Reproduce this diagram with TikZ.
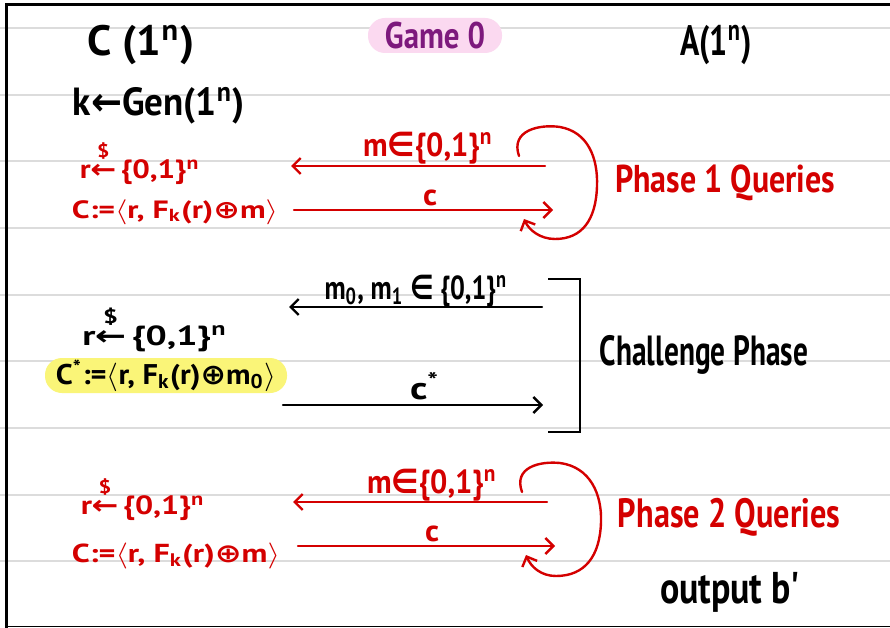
\documentclass[tikz,border=0pt]{standalone}
\usepackage{fontspec}
\usepackage{graphicx}
\setmainfont{PT Sans}
\newfontfamily\sym{DejaVu Sans}
\usetikzlibrary{arrows.meta}
\definecolor{inkred}{RGB}{212,0,0}
\definecolor{inkpurple}{RGB}{125,25,125}
\definecolor{hlpink}{RGB}{251,217,240}
\definecolor{hlyellow}{RGB}{250,245,120}
\definecolor{rulegray}{RGB}{220,220,220}
\newcommand\fitto[3]{\resizebox*{#1pt}{#2pt}{\bfseries #3}}
\newcommand\sampled{\mbox{\rlap{\raisebox{0.8em}{\makebox[0.8em][c]{\scriptsize\bfseries\$}}}\makebox[0.8em][c]{\sym ←}}}
\begin{document}
\begin{tikzpicture}[x=1pt,y=-1pt,
  lbl/.style={inner sep=0pt, anchor=center},
  ink/.style={line width=2.4pt, line cap=round, line join=round},
  tip/.style={-{Straight Barb[length=8pt,width=16pt]}},
  hl/.style={lbl, rounded corners=17pt, minimum height=35pt}
]
\useasboundingbox (0,0) rectangle (890,628);
\fill[white] (0,0) rectangle (890,628);
% ruled lines
\foreach \yy in {28,95,161,228,295,361,428,495,561}
  \draw[rulegray, line width=2pt] (0,\yy) -- (890,\yy);
% page frame
\draw[line width=3pt] (6,628) -- (6,5) -- (890,5);
\draw[line width=1.5pt] (6,626.5) -- (890,626.5);

% header
\node[lbl] (C) at (141,45) {\fitto{107}{40}{C (1\textsuperscript{n})}};
\node[hl, fill=hlpink, minimum width=134pt, text=inkpurple] (game) at (435,35.5) {\fitto{100}{27}{Game 0}};
\node[lbl] (A) at (716,45) {\fitto{72}{40}{A(1\textsuperscript{n})}};
\node[lbl] (gen) at (159,106) {\fitto{172}{37}{k{\sym ←}Gen(1\textsuperscript{n})}};

% phase 1
\node[lbl,text=inkred] (r1) at (140,164) {\fitto{120}{42}{r\sampled\,\{0,1\}\textsuperscript{n}}};
\node[lbl,text=inkred] (c1) at (175,212) {\fitto{206}{25}{C:=$\langle$r, F\textsubscript{k}(r){\sym ⊕}m$\rangle$}};
\node[lbl,text=inkred] (m1) at (428,148) {\fitto{130}{32}{m{\sym ∈}\{0,1\}\textsuperscript{n}}};
\node[lbl,text=inkred] (cl1) at (430,198) {\fitto{14}{16}{c}};
\node[lbl,text=inkred] (ph1) at (725,183) {\fitto{220}{36}{Phase 1 Queries}};
\coordinate (a1s) at (545,166); \coordinate (a1e) at (291,166);
\coordinate (b1s) at (294,210); \coordinate (b1e) at (553,210);
\coordinate (l1s) at (519,156); \coordinate (l1e) at (524,219);
\draw[ink,inkred,tip] (a1s) -- (a1e);
\draw[ink,inkred,tip] (b1s) -- (b1e);
\draw[ink,inkred,tip] (l1s) .. controls (510,130) and (540,124) .. (560,127)
  .. controls (588,132) and (598,158) .. (597,186)
  .. controls (596,220) and (582,239) .. (555,239)
  .. controls (540,239) and (529,230) .. (l1e);

% challenge phase
\node[lbl] (m01) at (416,291) {\fitto{183}{32}{m\textsubscript{0}, m\textsubscript{1} {\sym ∈} \{0,1\}\textsuperscript{n}}};
\node[lbl] (r2) at (155,330) {\fitto{145}{44}{r\sampled\,\{0,1\}\textsuperscript{n}}};
\node[hl, fill=hlyellow, minimum width=242pt] (cstar) at (166,375.5) {\fitto{220}{32}{C\textsuperscript{*}:=$\langle$r, F\textsubscript{k}(r){\sym ⊕}m\textsubscript{0}$\rangle$}};
\node[lbl] (csl) at (425,386) {\fitto{30}{28}{c\textsuperscript{*}}};
\node[lbl] (chal) at (704,355) {\fitto{208}{39}{Challenge Phase}};
\coordinate (a2s) at (542,307); \coordinate (a2e) at (289,307);
\coordinate (b2s) at (283,405); \coordinate (b2e) at (543,405);
\coordinate (k1) at (548,279); \coordinate (k2) at (580,279);
\coordinate (k3) at (580,432); \coordinate (k4) at (548,432);
\draw[ink,tip] (a2s) -- (a2e);
\draw[ink,tip] (b2s) -- (b2e);
\draw[line width=2.4pt, line cap=butt, line join=miter] (k1) -- (k2) -- (k3) -- (k4);

% phase 2
\node[lbl,text=inkred] (r3) at (143,500) {\fitto{124}{42}{r\sampled\,\{0,1\}\textsuperscript{n}}};
\node[lbl,text=inkred] (c3) at (176,556) {\fitto{208}{26}{C:=$\langle$r, F\textsubscript{k}(r){\sym ⊕}m$\rangle$}};
\node[lbl,text=inkred] (m3) at (432,485) {\fitto{130}{32}{m{\sym ∈}\{0,1\}\textsuperscript{n}}};
\node[lbl,text=inkred] (cl3) at (432,534) {\fitto{14}{16}{c}};
\node[lbl,text=inkred] (ph2) at (729,517) {\fitto{222}{38}{Phase 2 Queries}};
\node[lbl] (out) at (730,592) {\fitto{140}{40}{output b{\textquotesingle}}};
\coordinate (a3s) at (547,502); \coordinate (a3e) at (293,502);
\coordinate (b3s) at (298,546); \coordinate (b3e) at (555,546);
\coordinate (l3s) at (522,492); \coordinate (l3e) at (526,555);
\draw[ink,inkred,tip] (a3s) -- (a3e);
\draw[ink,inkred,tip] (b3s) -- (b3e);
\draw[ink,inkred,tip] (l3s) .. controls (513,467) and (540,461) .. (560,463)
  .. controls (590,467) and (602,494) .. (601,522)
  .. controls (600,556) and (585,576) .. (556,576)
  .. controls (541,576) and (531,567) .. (l3e);
\end{tikzpicture}
\end{document}
